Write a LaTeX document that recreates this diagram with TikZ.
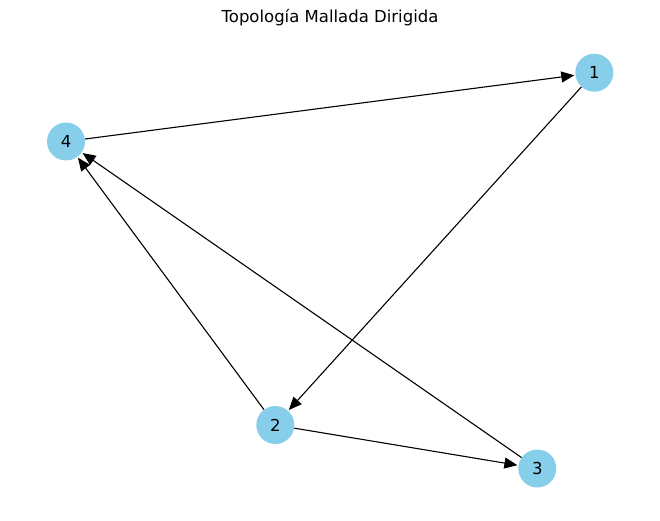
\documentclass[tikz,border=0pt]{standalone}
\usepackage{fontspec}
\setmainfont{DejaVu Sans}
\usetikzlibrary{arrows.meta}
\begin{document}
\begin{tikzpicture}[x=1pt,y=-1pt,
  vertex/.style={circle,fill={rgb,255:red,135;green,206;blue,235},
    minimum size=38pt,inner sep=0pt,font=\fontsize{16.5}{19}\selectfont},
  link/.style={draw=black,line width=1.1pt,-{Triangle[length=13pt,width=11pt]},shorten >=1pt}]
  \useasboundingbox (0,0) rectangle (660,521);
  \node[font=\fontsize{16.5}{19}\selectfont] (title) at (330,18) {Topología Mallada Dirigida};
  \node[vertex] (n1) at (594.3,72.7) {1};
  \node[vertex] (n4) at (66,141.5) {4};
  \node[vertex] (n2) at (275.3,425) {2};
  \node[vertex] (n3) at (537.3,468.5) {3};
  \draw[link] (n4) -- (n1);
  \draw[link] (n1) -- (n2);
  \draw[link] (n2) -- (n4);
  \draw[link] (n3) -- (n4);
  \draw[link] (n2) -- (n3);
\end{tikzpicture}
\end{document}
